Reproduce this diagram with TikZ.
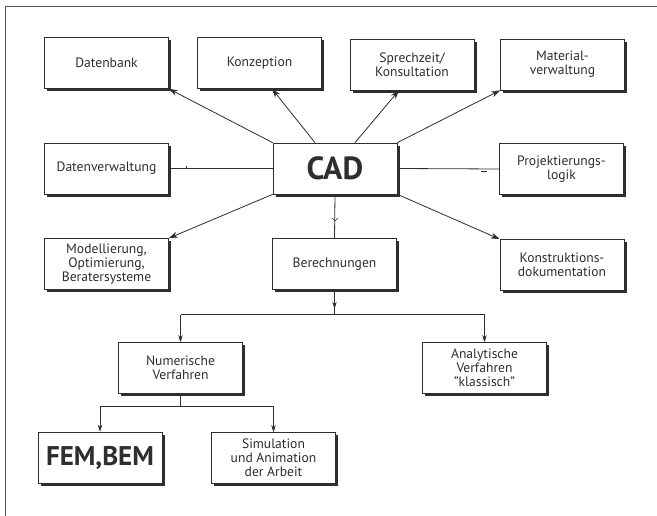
\documentclass[tikz,border=0pt]{standalone}
\usepackage{fontspec}
\setmainfont{PT Sans}
\usetikzlibrary{arrows.meta,shadows,calc}
\definecolor{ink}{HTML}{2E2E2E}
\tikzset{
  cbox/.style={draw=ink, line width=0.7pt, fill=white, minimum width=124pt, minimum height=51pt,
    align=center, inner sep=2pt, text=ink, font=\fontsize{13.6}{14.2}\selectfont,
    general shadow={fill=ink, shadow xshift=2.8pt, shadow yshift=-2.8pt}},
  conn/.style={draw=ink, line width=0.8pt},
  arr/.style={conn, -{Stealth[length=9pt,width=6pt]}},
  sarr/.style={conn, -{Stealth[length=7pt,width=4.5pt]}},
  tick/.style={draw=ink, line width=0.6pt}
}
\begin{document}
\begin{tikzpicture}[x=1pt,y=-1pt]
\useasboundingbox (0,0) rectangle (657,516);
\fill[white] (0,0) rectangle (657,516);
% frame
\draw[ink!80, line width=0.8pt] (5,516) -- (5,6) -- (657,6);
% nodes
\node[cbox] (db)   at (106.5,63)  {Datenbank};
\node[cbox] (konz) at (259.5,63)  {Konzeption};
\node[cbox] (spr)  at (412,64.5)  {Sprechzeit/\\Konsultation};
\node[cbox] (mat)  at (562.5,64.5){Material-\\verwaltung};
\node[cbox] (dv)   at (106.5,168.5){Datenverwaltung};
\node[cbox, font=\fontsize{32}{32}\selectfont\bfseries] (cad) at (335,168.5) {CAD};
\node[cbox] (proj) at (561.5,169) {Projektierungs-\\logik};
\node[cbox] (mod)  at (106.5,264) {Modellierung,\\Optimierung,\\Beratersysteme};
\node[cbox] (ber)  at (334.5,264) {Berechnungen};
\node[cbox] (kon)  at (562,265)   {Konstruktions-\\dokumentation};
\node[cbox] (num)  at (180.5,368) {Numerische\\Verfahren};
\node[cbox] (ana)  at (484.5,368) {Analytische\\Verfahren\\"klassisch"};
\node[cbox, font=\fontsize{27}{27}\selectfont\bfseries] (fem) at (100,457.5) {FEM,BEM};
\node[cbox] (sim)  at (273.5,458) {Simulation\\und Animation\\der Arbeit};
% connectors from CAD
\draw[arr] (cad.north west) -- (db.south east);
\draw[arr] ([xshift=-20pt]cad.north) -- ([xshift=12.5pt]konz.south);
\draw[arr] ([xshift=20pt]cad.north) -- ([xshift=-13pt]spr.south);
\draw[arr] (cad.north east) -- (mat.south west);
\draw[conn] (cad.west) -- (dv.east);
\draw[conn] (cad.east) -- (proj.west);
\draw[arr] (cad.south west) -- (mod.north east);
\draw[arr] (cad.south east) -- (kon.north west);
\draw[conn] (cad.south) -- (ber.north);
% small marks
\draw[tick] (186,166) -- (186,169);
\draw[tick] (481,171.5) -- (487,171.5);
\draw[tick] (332,218) -- (335,221) -- (338,218);
% Berechnungen split
\coordinate (j1) at ($(ber.south)+(0,25)$);
\draw[conn] (ber.south) -- (j1);
\draw[sarr] (ber.south) -- ([yshift=6pt]j1);
\draw[conn] (num.north |- j1) -- (ana.north |- j1);
\draw[sarr] (num.north |- j1) -- (num.north);
\draw[sarr] (ana.north |- j1) -- (ana.north);
% Numerische split
\coordinate (j2) at ($(num.south)+(0,13)$);
\draw[conn] (num.south) -- (j2);
\draw[conn] (fem.north |- j2) -- (sim.north |- j2);
\draw[sarr] (fem.north |- j2) -- (fem.north);
\draw[sarr] (sim.north |- j2) -- (sim.north);
\end{tikzpicture}
\end{document}
